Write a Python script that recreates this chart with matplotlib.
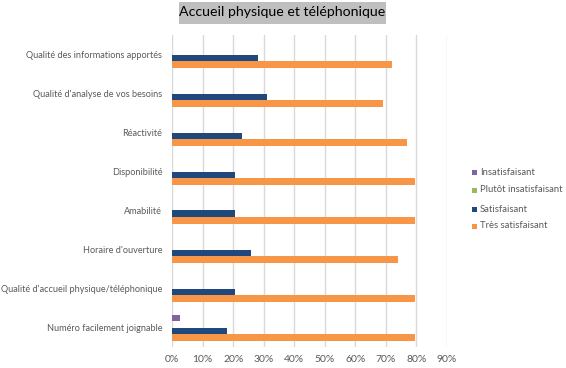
import matplotlib
matplotlib.use("Agg")
import matplotlib.pyplot as plt
from matplotlib.patches import Rectangle
import numpy as np

categories = [
    "Qualité des informations apportés",
    "Qualité d'analyse de vos besoins",
    "Réactivité",
    "Disponibilité",
    "Amabilité",
    "Horaire d'ouverture",
    "Qualité d'accueil physique/téléphonique",
    "Numéro facilement joignable",
]
series_names = ["Insatisfaisant", "Plutôt insatisfaisant", "Satisfaisant", "Très satisfaisant"]
insatisfaisant = [0, 0, 0, 0, 0, 0, 0, 2.5]
plutot_insatisfaisant = [0, 0, 0, 0, 0, 0, 0, 0]
satisfaisant = [28, 31, 23, 20.5, 20.5, 26, 20.5, 18]
tres_satisfaisant = [72, 69, 77, 79.5, 79.5, 74, 79.5, 79.5]
colors = ["#8064a2", "#9bbb59", "#1f497d", "#f79646"]
xticks = [0, 10, 20, 30, 40, 50, 60, 70, 80, 90]

plt.rcParams['font.family'] = ['Lato', 'DejaVu Sans']

W, H = 566, 368
fig = plt.figure(figsize=(W / 100, H / 100), dpi=100)
ax = fig.add_axes([172 / W, 1 - 347 / H, (447 - 172) / W, (347 - 35) / H])

y = np.arange(len(categories))
bh = 1 / 6
offsets = [-1.5 * bh, -0.5 * bh, 0.5 * bh, 1.5 * bh]
data = [insatisfaisant, plutot_insatisfaisant, satisfaisant, tres_satisfaisant]
for vals, off, c, name in zip(data, offsets, colors, series_names):
    ax.barh(y + off, vals, height=bh, color=c, label=name, zorder=3)

ax.set_ylim(len(categories) - 0.5, -0.5)
ax.set_xlim(0, 90)
ax.set_xticks(xticks)
ax.set_xticklabels([f"{t}%" for t in xticks])
ax.set_yticks(y)
ax.set_yticklabels(categories)
ax.grid(axis='x', color='#d9d9d9', linewidth=1, zorder=0)
for s in ax.spines.values():
    s.set_visible(False)
ax.tick_params(axis='x', length=0, labelsize=7.5, colors='#595959', pad=6)
ax.tick_params(axis='y', length=0, labelsize=6.6, colors='#595959', pad=7)

# Title with grey box
fig.patches.append(Rectangle((179 / W, 1 - 23.5 / H), (386 - 179) / W, 21.5 / H,
                             transform=fig.transFigure, facecolor='#bfbfbf', edgecolor='none'))
fig.text(282.5 / W, 1 - 12.5 / H, "Accueil physique et téléphonique", ha='center', va='center',
         fontsize=10.2, color='#000000')

# Legend
ly = [172, 190, 209, 226]
for name, c, yy in zip(series_names, colors, ly):
    fig.patches.append(Rectangle((471.5 / W, 1 - (yy + 2.5) / H), 5 / W, 5 / H,
                                 transform=fig.transFigure, facecolor=c, edgecolor='none'))
    fig.text(480 / W, 1 - yy / H, name, ha='left', va='center', fontsize=6.8, color='#595959')

fig.savefig("out.png", dpi=100)
